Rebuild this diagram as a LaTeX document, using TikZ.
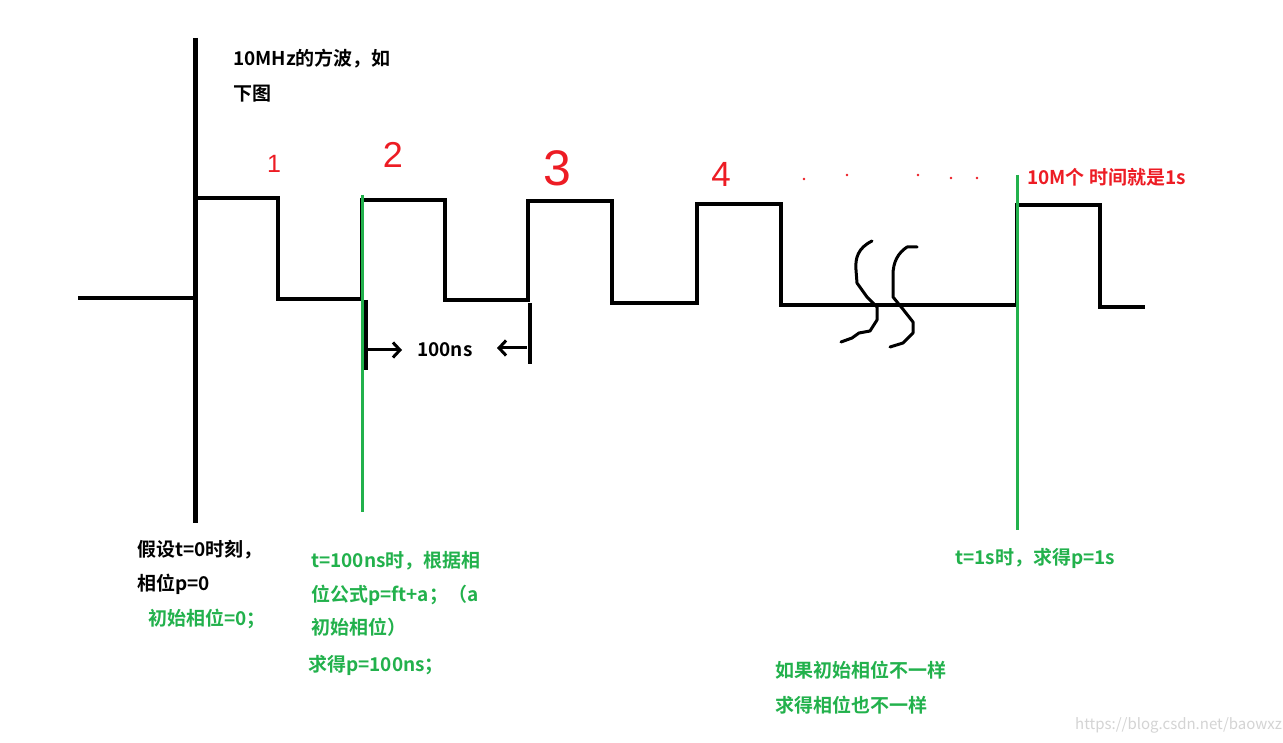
\documentclass[tikz,border=0pt]{standalone}
\usepackage{fontspec}
\setmainfont{Noto Sans CJK SC}[BoldFont={Noto Sans CJK SC Bold}]
\newfontfamily\handfont{Liberation Sans}
\usepackage{tikz}
\usetikzlibrary{arrows.meta}
\definecolor{paintgreen}{HTML}{22B14C}
\definecolor{paintred}{HTML}{ED1C24}
\tikzset{wave/.style={line width=4pt, line join=miter, line cap=rect}}
\tikzset{axisline/.style={line width=5pt}}
\tikzset{marker/.style={paintgreen, line width=3pt}}
\tikzset{hand/.style={line width=3pt, line cap=round, line join=round}}
\tikzset{note/.style={anchor=base west, inner sep=0pt, font=\fontsize{19}{21}\selectfont\bfseries}}
\tikzset{greennote/.style={note, text=paintgreen}}
\tikzset{digit/.style={anchor=base, inner sep=0pt, text=paintred, font=\handfont\fontsize{#1}{#1}\selectfont}}
\tikzset{barb/.style={-{Straight Barb[length=7pt, width=15pt, line width=3pt]}, line width=3pt}}

\begin{document}
\begin{tikzpicture}[x=1pt, y=-1pt]
            \useasboundingbox[fill=white] (0, 0) rectangle (1283, 743);
            % time axis
            \draw[axisline] (195, 38) -- (195, 523);
            % square wave
            \draw[wave] (80, 298) -- (195, 298) -- (195, 198) -- (278, 198) -- (278, 299)
                -- (362, 299) -- (362, 200) -- (445, 200) -- (445, 300) -- (528, 300)
                -- (528, 201) -- (612, 201) -- (612, 303) -- (697, 303) -- (697, 204)
                -- (781, 204) -- (781, 305) -- (1017, 305) -- (1017, 205) -- (1100, 205)
                -- (1100, 307) -- (1143, 307);
            % break marks
            \draw[hand] (872, 241) .. controls (858, 248) and (855, 258) .. (856, 270)
                -- (857, 283) -- (867, 297) -- (877, 307) -- (877, 320) -- (870, 331)
                -- (859, 333) -- (852, 338) -- (841, 342);
            \draw[hand] (917, 247) -- (907, 247) .. controls (898, 253) and (893, 262) .. (893, 275)
                -- (893, 297) -- (902, 308) -- (913, 322) -- (913, 333) -- (903, 343) -- (890, 347);
            % period between two edges
            \draw[wave, line cap=butt] (366, 300) -- (366, 370);
            \draw[wave, line cap=butt] (530, 303) -- (530, 364);
            \coordinate (pa) at (366, 350);
            \coordinate (pb) at (402, 350);
            \coordinate (pc) at (527, 348);
            \coordinate (pd) at (497, 348);
            \draw[barb] (pa) -- (pb);
            \draw[barb] (pc) -- (pd);
            \node[note, anchor=base west] (period) at (417, 357) {100ns};
            % green time markers
            \draw[marker] (362, 195) -- (362, 512);
            \draw[marker] (1017, 175) -- (1017, 530);
            % pulse numbers
            \node[digit=25] (n1) at (274, 173) {1};
            \node[digit=36] (n2) at (393, 168) {2};
            \node[digit=50] (n3) at (557, 186) {3};
            \node[digit=35] (n4) at (721, 187) {4};
            \foreach \dx/\dy in {804/179, 847/175, 918/175, 951/178, 977/178} {
                \fill[paintred] (\dx, \dy) circle [radius = 1.3];
            }
            % texts
            \node[note] (title) at (233, 66) {10MHz的方波，如};
            \node[note] (title2) at (233, 101) {下图};
            \node[note, text=paintred] (count) at (1027, 185) {10M个 时间就是1s};
            \node[note] (start1) at (137, 556) {假设t=0时刻，};
            \node[note] (start2) at (137, 590) {相位p=0};
            \node[greennote] (start3) at (148, 625) {初始相位=0；};
            \node[greennote] (mid1) at (311, 567) {t=100ns时，根据相};
            \node[greennote] (mid2) at (311, 601) {位公式p=ft+a；（a};
            \node[greennote] (mid3) at (311, 634) {初始相位）};
            \node[greennote] (mid4) at (308, 671) {求得p=100ns；};
            \node[greennote] (end1) at (955, 564) {t=1s时，求得p=1s};
            \node[greennote] (diff1) at (775, 677) {如果初始相位不一样};
            \node[greennote] (diff2) at (775, 712) {求得相位也不一样};
            \node[anchor=base west, inner sep=0pt, text=black!17, font=\fontsize{15}{16}\selectfont] (mark) at (1075, 729) {https://blog.csdn.net/baowxz};
        \end{tikzpicture}
\end{document}
